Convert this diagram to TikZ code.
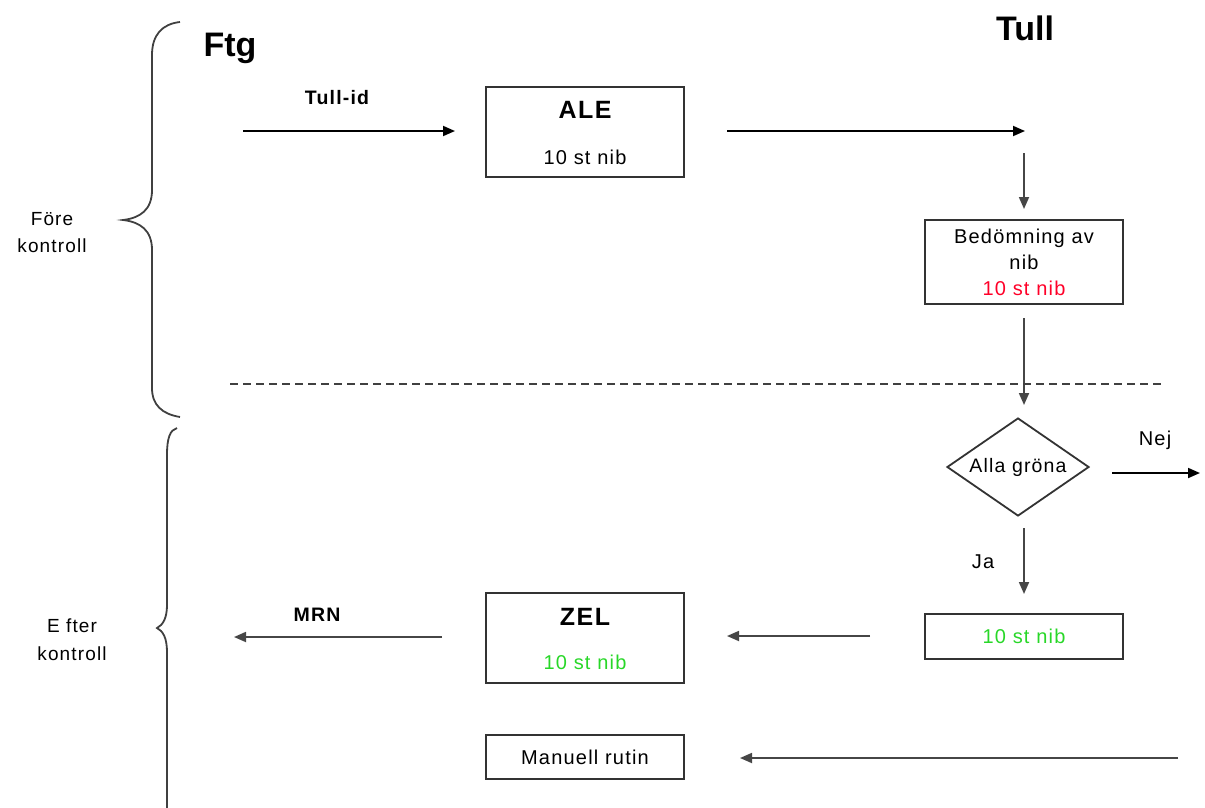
\documentclass[tikz,border=0pt]{standalone}
\usepackage{fontspec}
\setmainfont{Liberation Sans}[LetterSpace=6]
\newfontfamily\headfont{Liberation Sans}
\usetikzlibrary{arrows.meta,shapes.geometric}
\definecolor{tgreen}{RGB}{40,215,40}
\definecolor{tred}{RGB}{255,0,40}
\definecolor{gline}{RGB}{70,70,70}
\begin{document}
\begin{tikzpicture}[x=1pt,y=-1pt,
  box/.style={draw=black!80, line width=2pt, rectangle, minimum width=198pt, inner sep=0pt, align=center, font=\fontsize{20}{26}\selectfont},
  txt/.style={font=\fontsize{20}{24}\selectfont, inner sep=0pt, align=center},
  head/.style={font=\fontsize{25}{28}\selectfont\bfseries, inner sep=0pt},
  big/.style={font=\headfont\fontsize{34}{38}\selectfont\bfseries, inner sep=0pt},
  small/.style={font=\fontsize{19.5}{22}\selectfont\bfseries, inner sep=0pt},
  conn/.style={line width=1.8pt, -{Triangle[length=12pt,width=10pt]}},
  gconn/.style={conn, draw=gline},
  bracep/.style={line width=1.8pt, draw=black!75}]
\useasboundingbox (0,0) rectangle (1205,807);
\clip (0,0) rectangle (1205,807);

% braces
\draw[bracep] (180,22) .. controls (162,24) and (152,35) .. (152,55)
  -- (152,190) .. controls (152,210) and (140,218) .. (123,220)
  .. controls (140,222) and (152,230) .. (152,250)
  -- (152,388) .. controls (152,405) and (162,414) .. (180,417);
\draw[bracep] (177,428) .. controls (170,430) and (167,438) .. (167,455)
  -- (167,605) .. controls (167,618) and (163,625) .. (157,628)
  .. controls (163,631) and (167,638) .. (167,652)
  -- (167,815);
\node[txt, font=\fontsize{19}{27}\selectfont] (fore) at (52,233) {Före\\kontroll};
\node[txt, font=\fontsize{19}{28}\selectfont] (efter) at (72,640) {E fter\\kontroll};

\node[big] (ftg) at (230,48) {Ftg};
\node[big] (tull) at (1025,28) {Tull};
\node[small] (tullid) at (337,98) {Tull-id};

% ALE
\node[box, minimum height=90pt] (ale) at (585,132) {};
\node[head] (aletitle) at (585,110) {ALE};
\node[txt] (alenib) at (585,157) {10 st nib};

% Bedömning
\node[box, minimum height=84pt] (bed) at (1024,262) {Bedömning av\\nib\\\textcolor{tred}{10 st nib}};

% diamond
\node[draw=black!80, line width=1.8pt, diamond, aspect=1.45, minimum width=142pt, minimum height=98pt, inner sep=0pt, font=\fontsize{19.5}{22}\selectfont] (dia) at (1018,467) {Alla gröna};

% green box
\node[box, minimum height=45pt, text=tgreen] (gbox) at (1024,636.5) {10 st nib};

% ZEL
\node[box, minimum height=90pt] (zel) at (585,638) {};
\node[head] (zeltitle) at (585,617) {ZEL};
\node[txt, text=tgreen] (zelnib) at (585,662) {10 st nib};

% Manuell rutin
\node[box, minimum height=44pt, font=\fontsize{20}{22}\selectfont] (man) at (585,757) {Manuell rutin};

% labels
\node[small] (mrn) at (317,615) {MRN};
\node[txt] (nej) at (1155,440) {Nej};
\node[txt] (ja) at (983,562) {Ja};

% connector endpoints
\coordinate (a1s) at (243,131); \coordinate (a1e) at (455,131);
\coordinate (a2s) at (727,131); \coordinate (a2e) at (1025,131);
\coordinate (a3s) at (1024,153); \coordinate (a3e) at (1024,209);
\coordinate (a4s) at (1024,318); \coordinate (a4e) at (1024,405);
\coordinate (a5s) at (1112,473); \coordinate (a5e) at (1200,473);
\coordinate (a6s) at (1024,528); \coordinate (a6e) at (1024,594);
\coordinate (a7s) at (870,636); \coordinate (a7e) at (727,636);
\coordinate (a8s) at (442,637); \coordinate (a8e) at (234,637);
\coordinate (a9s) at (1178,758); \coordinate (a9e) at (740,758);
\coordinate (d1) at (230,384); \coordinate (d2) at (1165,384);

\draw[conn] (a1s) -- (a1e);
\draw[conn] (a2s) -- (a2e);
\draw[gconn] (a3s) -- (a3e);
\draw[gconn] (a4s) -- (a4e);
\draw[conn] (a5s) -- (a5e);
\draw[gconn] (a6s) -- (a6e);
\draw[gconn] (a7s) -- (a7e);
\draw[gconn] (a8s) -- (a8e);
\draw[gconn] (a9s) -- (a9e);
\draw[line width=1.8pt, draw=black!75, dash pattern=on 8pt off 5pt] (d1) -- (d2);
\end{tikzpicture}
\end{document}
